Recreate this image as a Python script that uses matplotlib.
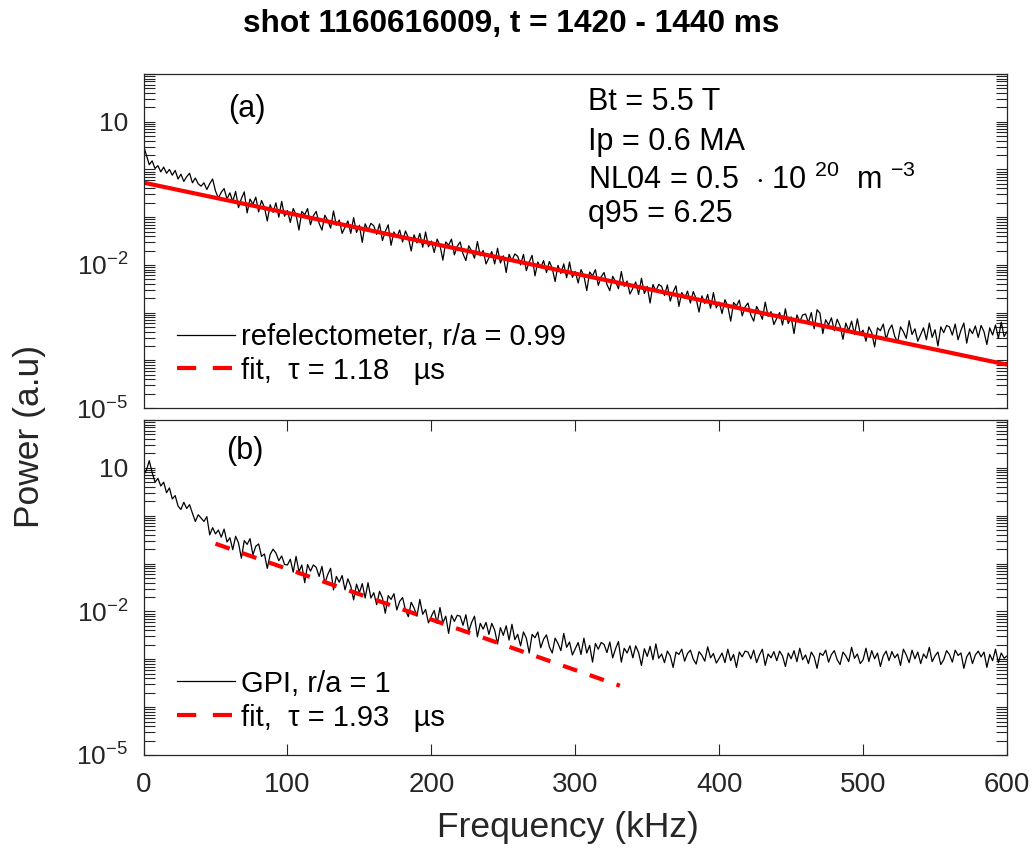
import numpy as np
import matplotlib
matplotlib.use("Agg")
import matplotlib.pyplot as plt
from matplotlib.lines import Line2D
from matplotlib.ticker import FixedLocator, NullFormatter, FixedFormatter

plt.rcParams['font.family'] = ['Liberation Sans', 'DejaVu Sans']
plt.rcParams['mathtext.fontset'] = 'custom'
plt.rcParams['mathtext.rm'] = 'Liberation Sans'
plt.rcParams['mathtext.it'] = 'Liberation Sans:italic'
plt.rcParams['mathtext.bf'] = 'Liberation Sans:bold'

# ---------------- data ----------------
freq_khz = np.arange(0, 601, 2)

# log10 of power, reflectometer (panel a), every 2 kHz
refl_log10 = [
    0.50, 0.30, 0.10, 0.18, 0.02, 0.08, -0.05, 0.05, -0.08, 0.00,
    -0.12, -0.02, -0.20, -0.10, -0.25, -0.15, -0.08, -0.28, -0.18, -0.30,
    -0.35, -0.28, -0.42, -0.30, -0.20, -0.45, -0.60, -0.48, -0.40, -0.62,
    -0.49, -0.67, -0.46, -0.80, -0.61, -0.47, -0.91, -0.62, -0.73, -0.58,
    -0.89, -0.65, -0.79, -1.08, -0.74, -0.90, -0.70, -1.00, -0.67, -0.98,
    -0.86, -1.11, -0.82, -0.95, -1.27, -0.88, -0.95, -0.82, -1.16, -0.97,
    -0.88, -1.13, -1.27, -0.96, -1.07, -1.23, -0.87, -1.17, -1.06, -1.34,
    -1.21, -1.08, -1.34, -1.01, -1.32, -1.17, -1.53, -1.14, -1.27, -1.13,
    -1.18, -1.36, -1.14, -1.49, -1.30, -1.16, -1.59, -1.31, -1.42, -1.27,
    -1.52, -1.29, -1.43, -1.71, -1.37, -1.54, -1.34, -1.63, -1.31, -1.62,
    -1.50, -1.74, -1.46, -1.59, -1.90, -1.52, -1.59, -1.46, -1.79, -1.61,
    -1.52, -1.77, -1.91, -1.60, -1.71, -1.86, -1.51, -1.81, -1.70, -1.98,
    -1.85, -1.72, -1.98, -1.65, -1.96, -1.81, -2.16, -1.78, -1.91, -1.77,
    -1.82, -2.00, -1.78, -2.12, -1.94, -1.80, -2.23, -1.94, -2.06, -1.91,
    -2.16, -1.93, -2.07, -2.35, -2.01, -2.18, -1.98, -2.27, -1.94, -2.26,
    -2.14, -2.38, -2.10, -2.23, -2.54, -2.15, -2.23, -2.10, -2.43, -2.25,
    -2.16, -2.41, -2.54, -2.24, -2.35, -2.50, -2.14, -2.45, -2.34, -2.61,
    -2.49, -2.36, -2.62, -2.28, -2.60, -2.45, -2.80, -2.41, -2.55, -2.41,
    -2.45, -2.64, -2.42, -2.76, -2.57, -2.44, -2.87, -2.58, -2.70, -2.55,
    -2.80, -2.56, -2.71, -2.99, -2.65, -2.81, -2.62, -2.91, -2.58, -2.90,
    -2.78, -3.02, -2.73, -2.87, -3.18, -2.79, -2.86, -2.74, -3.07, -2.88,
    -2.80, -3.05, -3.18, -2.87, -2.99, -3.14, -2.78, -3.08, -2.98, -3.25,
    -3.12, -3.00, -3.26, -2.92, -3.23, -3.09, -3.44, -3.05, -3.19, -3.05,
    -3.03, -3.21, -3.00, -3.34, -2.94, -3.01, -3.44, -3.15, -3.26, -3.11,
    -3.38, -3.14, -3.28, -3.56, -3.22, -3.38, -3.18, -3.46, -3.13, -3.44,
    -3.37, -3.60, -3.30, -3.42, -3.72, -3.32, -3.38, -3.24, -3.56, -3.36,
    -3.26, -3.50, -3.62, -3.30, -3.40, -3.54, -3.17, -3.46, -3.34, -3.60,
    -3.46, -3.32, -3.57, -3.22, -3.52, -3.36, -3.70, -3.30, -3.42, -3.27,
    -3.30, -3.47, -3.24, -3.57, -3.37, -3.22, -3.64, -3.34, -3.44, -3.28,
    -3.52, -3.27, -3.40, -3.67, -3.32, -3.47, -3.26, -3.54, -3.20, -3.50,
    -3.40,
]

# log10 of power, GPI (panel b), every 2 kHz
gpi_log10 = [
    0.85, 0.95, 1.15, 0.90, 0.70, 0.78, 0.62, 0.70, 0.48, 0.58,
    0.35, 0.42, 0.20, 0.13, 0.28, 0.15, 0.23, 0.05, -0.12, 0.02,
    -0.05, -0.12, -0.02, -0.40, -0.25, -0.38, -0.30, -0.45, -0.28, -0.55,
    -0.46, -0.71, -0.43, -0.57, -0.89, -0.52, -0.60, -0.48, -0.82, -0.64,
    -0.59, -0.85, -0.80, -1.10, -0.81, -0.70, -0.78, -0.94, -0.84, -1.02,
    -1.03, -0.91, -1.18, -0.85, -1.17, -1.03, -1.40, -1.02, -1.16, -1.03,
    -1.08, -1.27, -1.06, -1.41, -1.23, -1.10, -1.55, -1.27, -1.39, -1.25,
    -1.55, -1.32, -1.47, -1.76, -1.43, -1.61, -1.42, -1.72, -1.40, -1.72,
    -1.61, -1.86, -1.58, -1.72, -2.04, -1.67, -1.75, -1.63, -1.97, -1.79,
    -1.71, -1.97, -2.11, -1.81, -1.93, -2.10, -1.75, -2.06, -1.96, -2.24,
    -2.10, -1.98, -2.25, -1.92, -2.24, -2.10, -2.46, -2.08, -2.21, -2.08,
    -2.10, -2.29, -2.07, -2.42, -2.23, -2.10, -2.53, -2.25, -2.37, -2.23,
    -2.48, -2.25, -2.39, -2.68, -2.34, -2.50, -2.30, -2.60, -2.27, -2.59,
    -2.48, -2.72, -2.43, -2.56, -2.87, -2.48, -2.55, -2.43, -2.76, -2.58,
    -2.49, -2.74, -2.87, -2.56, -2.67, -2.82, -2.46, -2.75, -2.64, -2.91,
    -2.78, -2.65, -2.90, -2.56, -2.87, -2.71, -3.06, -2.67, -2.79, -2.65,
    -2.69, -2.86, -2.64, -2.97, -2.78, -2.63, -3.06, -2.77, -2.87, -2.72,
    -2.97, -2.72, -2.86, -3.13, -2.78, -2.94, -2.73, -3.01, -2.68, -2.98,
    -2.89, -3.07, -2.83, -2.93, -3.17, -2.85, -2.90, -2.79, -3.04, -2.88,
    -2.81, -3.00, -3.10, -2.84, -2.92, -3.04, -2.74, -2.97, -2.88, -3.08,
    -2.98, -2.87, -3.07, -2.79, -3.03, -2.90, -3.17, -2.85, -2.95, -2.83,
    -2.85, -2.99, -2.81, -3.07, -2.91, -2.79, -3.13, -2.89, -2.97, -2.84,
    -3.03, -2.83, -2.93, -3.15, -2.87, -2.99, -2.82, -3.05, -2.77, -3.01,
    -2.91, -3.09, -2.85, -2.95, -3.19, -2.87, -2.92, -2.81, -3.06, -2.90,
    -2.82, -3.01, -3.11, -2.85, -2.93, -3.05, -2.75, -2.98, -2.89, -3.09,
    -3.01, -2.77, -3.05, -2.82, -2.99, -2.87, -3.15, -2.93, -2.83, -3.03,
    -2.84, -2.97, -2.89, -3.13, -2.79, -2.91, -3.07, -2.81, -2.99, -2.85,
    -3.09, -2.89, -2.98, -2.75, -3.05, -2.93, -2.85, -3.11, -3.01, -2.82,
    -2.90, -3.06, -2.81, -2.92, -2.87, -3.19, -2.95, -2.85, -3.09, -2.91,
    -2.83, -2.95, -2.85, -3.17, -2.90, -3.03, -2.79, -3.07, -2.87, -2.98,
    -2.93,
]

# exponential fits (end points of the straight lines in log scale)
fit_a_khz = [0, 600]
fit_a_power = [0.53, 8.1e-5]
fit_b_khz = [50, 331]
fit_b_power = [0.26, 2.8e-4]

refl_power = 10.0 ** np.array(refl_log10)
gpi_power = 10.0 ** np.array(gpi_log10)

ytick_vals = [1e-5, 1e-2, 1e1]
ytick_labels = [r'$\mathregular{10^{-5}}$', r'$\mathregular{10^{-2}}$', '10']
xtick_vals = [0, 100, 200, 300, 400, 500, 600]

title = 'shot 1160616009, t = 1420 - 1440 ms'
info_lines = ['Bt = 5.5 T', 'Ip = 0.6 MA',
              r'NL04 = 0.5  $\cdot$ 10 $^{\mathregular{20}}$  m $^{\mathregular{-3}}$',
              'q95 = 6.25']

# ---------------- figure ----------------
AX_COL = '#262626'
fig = plt.figure(figsize=(10.34, 8.55), dpi=100)
axA = fig.add_axes([0.1388, 0.5228, 0.8351, 0.3906])
axB = fig.add_axes([0.1388, 0.1170, 0.8351, 0.3918])

minor_locs = [m * 10.0 ** e for e in range(-5, 2) for m in range(1, 10)] + [100.0]

for ax in (axA, axB):
    ax.set_yscale('log')
    ax.set_xlim(0, 600)
    ax.set_ylim(1e-5, 1e2)
    ax.yaxis.set_major_locator(FixedLocator(ytick_vals))
    ax.yaxis.set_major_formatter(FixedFormatter(ytick_labels))
    ax.yaxis.set_minor_locator(FixedLocator(minor_locs))
    ax.yaxis.set_minor_formatter(NullFormatter())
    for s in ax.spines.values():
        s.set_color(AX_COL)
        s.set_linewidth(0.9)
    ax.tick_params(which='both', direction='in', length=8, width=0.8,
                   colors=AX_COL, left=True, right=True)
    ax.tick_params(axis='y', which='major', labelsize=19, pad=11)

axA.set_xticks([])
axA.tick_params(axis='x', which='both', top=False, bottom=False)
axB.set_xticks(xtick_vals)
axB.tick_params(axis='x', which='both', top=True, bottom=True, labelsize=20,
                pad=12)

# panel (a)
axA.plot(freq_khz, refl_power, color='black', lw=0.9)
axA.plot(fit_a_khz, fit_a_power, color='red', lw=3, solid_capstyle='butt')
# panel (b)
axB.plot(freq_khz, gpi_power, color='black', lw=0.9)
axB.plot(fit_b_khz, fit_b_power, color='red', lw=3, dashes=(3.6, 3.2))

axA.text(0.098, 0.871, '(a)', transform=axA.transAxes, fontsize=22,
         va='baseline', ha='left')
axB.text(0.0955, 0.884, '(b)', transform=axB.transAxes, fontsize=22,
         va='baseline', ha='left')

for txt, yb in zip(info_lines, [0.892, 0.772, 0.656, 0.557]):
    axA.text(0.5147, yb, txt, transform=axA.transAxes, fontsize=22,
             va='baseline', ha='left')

def add_legend(ax, label1, label2):
    h1 = Line2D([], [], color='black', lw=0.9)
    h2 = Line2D([], [], color='red', lw=3, dashes=(4.6, 4.0))
    ax.legend([h1, h2], [label1, label2], loc='lower left',
              bbox_to_anchor=(0.0388, 0.07), frameon=False, fontsize=21,
              handlelength=2.0, handletextpad=0.2, labelspacing=0.2,
              borderpad=0, borderaxespad=0)

add_legend(axA, 'refelectometer, r/a = 0.99', 'fit,  \u03c4 = 1.18   \u00b5s')
add_legend(axB, 'GPI, r/a = 1', 'fit,  \u03c4 = 1.93   \u00b5s')

fig.text(0.5497, 0.0316, 'Frequency (kHz)', fontsize=25.5, color=AX_COL,
         ha='center', va='center')
fig.text(0.029, 0.489, 'Power (a.u)', rotation=90, fontsize=25.5,
         color=AX_COL, ha='center', va='center')
fig.text(0.494, 0.9626, title, fontsize=22.8, fontweight='bold',
         ha='center', va='baseline')

fig.savefig('out.png', dpi=100)
